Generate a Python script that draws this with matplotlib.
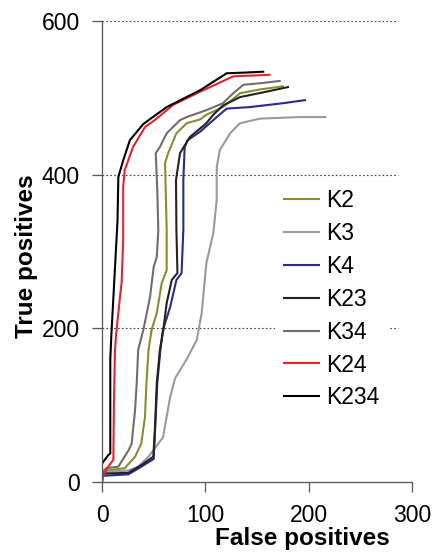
"""ROC-style curves: true positives vs false positives for the K-combinations."""

import matplotlib
matplotlib.use("Agg")
import matplotlib.pyplot as plt

plt.rcParams["font.family"] = ["Liberation Sans", "DejaVu Sans"]

# Curves (false positives, true positives)
K2_FP = [0, 0, 5, 22, 32, 38, 41.6, 43, 45, 48, 53, 57.8, 62.6, 62.6, 61, 64, 72, 82, 95, 101, 117, 133.6, 153, 175]
K2_TP = [0, 10, 15, 18, 33, 50, 85, 129, 172, 198, 220, 259, 276, 328, 415, 428, 454, 467, 472, 478, 488, 506, 511, 515]

K3_FP = [0, 0, 25.5, 35, 45, 54.5, 59, 66, 70.7, 82, 91.7, 96.5, 101, 107.7, 111, 111, 114, 124, 133.6, 153, 191.7, 216]
K3_TP = [0, 13, 15, 20, 33, 50, 58, 111, 135, 160, 185, 220, 285, 324, 367, 410, 432, 454, 467, 473, 475, 475]

K4_FP = [0, 0, 25.5, 38, 50, 51.5, 53.5, 56.5, 59, 66, 72, 77, 78.7, 78.7, 80, 83, 95, 111, 120.7, 143, 175, 196.5]
K4_TP = [0, 8, 10, 20, 30, 72, 129, 172, 198, 228, 263, 272, 328, 393, 436, 445, 456, 475, 486, 488, 493, 497]

K23_FP = [0, 0, 25.5, 38, 49.7, 51.3, 53, 56, 59.3, 62.6, 67.5, 73, 72, 71.6, 75.5, 85, 101, 107.7, 117, 133.6, 159, 180]
K23_TP = [0, 11, 12, 22, 33, 72, 129, 172, 198, 233, 263, 272, 328, 393, 428, 449, 467, 478, 490, 501, 508, 514]

K34_FP = [0, 0, 4, 15.8, 25.5, 28.7, 32, 33.6, 35, 40, 46.5, 50, 53, 54.5, 53.5, 52, 56, 62.6, 75.5, 82, 101, 117, 127, 136.8, 153, 172]
K34_TP = [0, 12, 18, 20, 41, 50, 94, 129, 172, 198, 241, 280, 293, 328, 380, 428, 436, 454, 471, 475, 484, 493, 506, 517, 519, 522]

K24_FP = [0, 1.3, 6, 11, 11.5, 12.5, 13.5, 17.4, 19, 20.5, 20.5, 22, 30, 41.6, 51, 69, 95, 127, 162]
K24_TP = [0, 9, 20, 29, 100, 170, 190, 241, 260, 315, 384, 406, 436, 462, 471, 491, 508, 528, 530]

K234_FP = [0, 0, 6, 8, 8, 9, 11, 13, 15, 15.8, 20.6, 27, 40, 62.6, 95, 120.7, 140, 156]
K234_TP = [0, 24, 35, 37, 160, 190, 240, 290, 340, 397, 419, 445, 466, 488, 510, 532, 533, 534]

LABELS = ["K2", "K3", "K4", "K23", "K34", "K24", "K234"]
COLORS = ["#8c8c2e", "#9a9a9a", "#2b2b8c", "#222222", "#6e6e6e", "#e8222b", "#000000"]

X_TICKS = [0, 100, 200, 300]
Y_TICKS = [0, 200, 400, 600]


def main():
    fig = plt.figure(figsize=(4.33, 5.59), dpi=100)
    ax = fig.add_axes([0.2356, 0.1377, 0.9515 - 0.2356, 0.9624 - 0.1377])

    series = [
        (K2_FP, K2_TP), (K3_FP, K3_TP), (K4_FP, K4_TP), (K23_FP, K23_TP),
        (K34_FP, K34_TP), (K24_FP, K24_TP), (K234_FP, K234_TP),
    ]
    for (fp, tp), label, color in zip(series, LABELS, COLORS):
        ax.plot(fp, tp, color=color, lw=1.5, label=label)

    for y in Y_TICKS[1:]:
        ax.axhline(y, xmin=0, xmax=0.955, color="#444444", lw=0.8,
                   linestyle=(0, (1.5, 2)), zorder=0)

    ax.set_xlim(0, 300)
    ax.set_ylim(0, 600)
    ax.set_xticks(X_TICKS)
    ax.set_yticks(Y_TICKS)
    ax.tick_params(labelsize=16.5, length=7, width=0.9, color="#555555", pad=9)
    for side in ("top", "right"):
        ax.spines[side].set_visible(False)
    for side in ("left", "bottom"):
        ax.spines[side].set_color("#555555")
        ax.spines[side].set_linewidth(0.9)

    ax.set_xlabel("False positives", fontsize=17.5, fontweight="bold")
    ax.set_ylabel("True positives", fontsize=17.5, fontweight="bold")
    ax.xaxis.set_label_coords(0.645, -0.098)
    ax.yaxis.set_label_coords(-0.205, 0.49)

    leg = ax.legend(loc="upper left", bbox_to_anchor=(0.558, 0.655), borderaxespad=0,
                    borderpad=0.4, frameon=True, fancybox=False, framealpha=1,
                    edgecolor="none", fontsize=16.5, handlelength=1.53,
                    handletextpad=0.3, labelspacing=0.43)
    leg.get_frame().set_facecolor("white")

    fig.savefig("out.png", dpi=100)


if __name__ == "__main__":
    main()
